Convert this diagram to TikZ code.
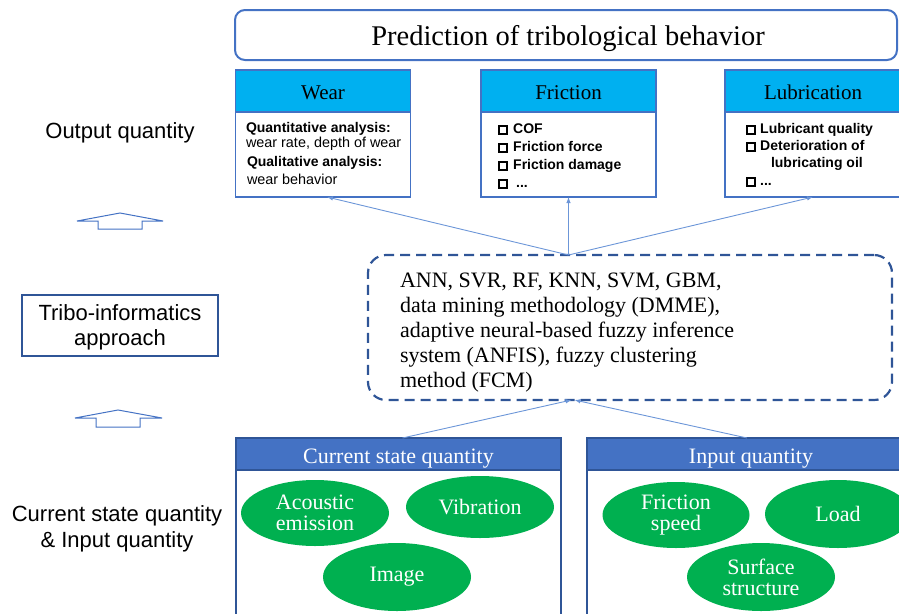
\documentclass[tikz,border=0pt]{standalone}
\usepackage{fontspec}
\setmainfont{Liberation Serif}
\setsansfont{Liberation Sans}
\usetikzlibrary{shapes.geometric,arrows.meta}

\definecolor{frameblue}{HTML}{4472C4}
\definecolor{deepblue}{HTML}{2F5597}
\definecolor{headcyan}{HTML}{00B0F0}
\definecolor{leafgreen}{HTML}{00B050}
\definecolor{linkblue}{HTML}{6C96D8}

% hollow square bullet used in the lists
\newcommand\chk{{\setlength{\fboxrule}{1.9pt}\setlength{\fboxsep}{0pt}\fbox{\rule{0pt}{6.4pt}\rule{6.4pt}{0pt}}}}
\newcommand\fs[1]{\fontsize{#1}{#1}\selectfont}

\tikzset{
  every node/.style={inner sep=0pt, outer sep=0pt},
  titlebox/.style={draw=frameblue, line width=2pt, rounded corners=10pt, fill=white,
                   font=\fs{28.5}},
  catbox/.style={draw=frameblue, line width=1.2pt, fill=white, anchor=north west},
  cathead/.style={draw=frameblue, line width=1.2pt, fill=headcyan, anchor=north west,
                  font=\fs{21}},
  bodybold/.style={anchor=base west, font=\sffamily\bfseries\fs{14}},
  bodyplain/.style={anchor=base west, font=\sffamily\fs{14.4}},
  sidelabel/.style={anchor=base, font=\sffamily\fs{22}},
  sidebox/.style={draw=deepblue, line width=1.2pt, anchor=north west},
  algobox/.style={draw=deepblue, line width=2.2pt, dash pattern=on 10pt off 6pt,
                  rounded corners=18pt, anchor=north west},
  algotext/.style={anchor=base west, font=\fs{22}},
  groupbox/.style={draw=deepblue, line width=1.2pt, fill=white, anchor=north west},
  grouphead/.style={draw=deepblue, line width=1.2pt, fill=frameblue, anchor=north west,
                    text=white, font=\fs{22}},
  leaf/.style={ellipse, fill=leafgreen, text=white, align=center,
               font=\fontsize{22}{21}\selectfont},
  link/.style={draw=linkblue, line width=0.9pt, -{Latex[length=6pt,width=4.5pt]}},
  hollow/.style={draw=frameblue, line width=1pt, fill=white, line join=miter},
}

\begin{document}
\begin{tikzpicture}[x=1pt, y=-1pt]
\useasboundingbox (0,0) rectangle (899,613);
\clip (0,0) rectangle (899,613);

% ---------- result level ----------
\node[titlebox, anchor=north west, minimum width=662pt, minimum height=50pt]
  (pred) at (235,10) {};
\node[font=\fs{28.5}, anchor=base] (predtext) at (568,45) {Prediction of tribological behavior};

\node[catbox, minimum width=175pt, minimum height=127pt] (wear) at (235.5,70) {};
\node[cathead, minimum width=175pt, minimum height=42pt] (wearhd) at (235.5,70) {};
\node[font=\fs{21}, anchor=base] (weart) at (wearhd.center |- 0,99) {Wear};

\node[catbox, minimum width=175pt, minimum height=127pt] (friction) at (481,70) {};
\node[cathead, minimum width=175pt, minimum height=42pt] (frictionhd) at (481,70) {};
\node[font=\fs{21}, anchor=base] (frictiont) at (frictionhd.center |- 0,99) {Friction};

\node[catbox, minimum width=176pt, minimum height=127pt] (lub) at (725,70) {};
\node[cathead, minimum width=176pt, minimum height=42pt] (lubhd) at (725,70) {};
\node[font=\fs{21}, anchor=base] (lubt) at (lubhd.center |- 0,99) {Lubrication};

% wear contents
\node[bodybold]  (w1) at (246,132) {Quantitative analysis:};
\node[bodyplain] (w2) at (246,147) {wear rate, depth of wear};
\node[bodybold]  (w3) at (247,166) {Qualitative analysis:};
\node[bodyplain] (w4) at (247,184) {wear behavior};

% friction contents
\node[bodybold] (f1) at (498,133) {\chk\hspace{5pt}COF};
\node[bodybold] (f2) at (498,151) {\chk\hspace{5pt}Friction force};
\node[bodybold] (f3) at (498,169) {\chk\hspace{5pt}Friction damage};
\node[bodybold] (f4) at (498,187) {\chk\hspace{8pt}...};

% lubrication contents
\node[bodybold] (l1) at (746,133) {\chk\hspace{4pt}Lubricant quality};
\node[bodybold] (l2) at (746,150) {\chk\hspace{4pt}Deterioration of};
\node[bodybold] (l3) at (771,167) {lubricating oil};
\node[bodybold] (l4) at (746,185) {\chk\hspace{4pt}...};

% ---------- method level ----------
\node[algobox, minimum width=524pt, minimum height=145pt] (algo) at (368,255) {};
\node[algotext] (a1) at (400,287) {ANN, SVR, RF, KNN, SVM, GBM,};
\node[algotext] (a2) at (400,312) {data mining methodology (DMME),};
\node[algotext] (a3) at (400,337) {adaptive neural-based fuzzy inference};
\node[algotext] (a4) at (400,362) {system (ANFIS), fuzzy clustering};
\node[algotext] (a5) at (400,387) {method (FCM)};

% ---------- input level ----------
\node[groupbox, minimum width=325pt, minimum height=190pt] (cs) at (236,438) {};
\node[grouphead, minimum width=325pt, minimum height=32pt] (cshd) at (236,438) {};
\node[anchor=base, text=white, font=\fs{22}] (cst) at (cshd.center |- 0,463) {Current state quantity};

\node[groupbox, minimum width=320pt, minimum height=190pt] (inp) at (587,438) {};
\node[grouphead, minimum width=320pt, minimum height=32pt] (inphd) at (587,438) {};
\node[anchor=base, text=white, font=\fs{22}] (inpt) at (751,463) {Input quantity};

\node[leaf, minimum width=148pt, minimum height=66pt] (acoustic) at (315,513) {Acoustic\\emission};
\node[leaf, minimum width=148pt, minimum height=62pt] (vibration) at (480,507) {Vibration};
\node[leaf, minimum width=148pt, minimum height=68pt] (image) at (397,577) {Image};
\node[leaf, minimum width=147pt, minimum height=66pt] (fspeed) at (676,515) {Friction\\speed};
\node[leaf, minimum width=146pt, minimum height=68pt] (load) at (838,514) {Load};
\node[leaf, minimum width=148pt, minimum height=68pt] (surface) at (761,577) {Surface\\structure};

% ---------- side labels ----------
\node[sidelabel] (outq) at (120,138) {Output quantity};
\node[sidebox, minimum width=196pt, minimum height=61pt] (tribo) at (22,295) {};
\node[sidelabel] (tribo1) at (120,320) {Tribo-informatics};
\node[sidelabel] (tribo2) at (120,345) {approach};
\node[sidelabel] (inq1) at (117,521) {Current state quantity};
\node[sidelabel] (inq2) at (117,547) {\& Input quantity};

% hollow upward block arrows
\coordinate (upper) at (120,213);
\draw[hollow] (upper) -- ++(43,8) -- ++(-21,0) -- ++(0,8) -- ++(-44,0)
  -- ++(0,-8) -- ++(-21,0) -- cycle;
\coordinate (lower) at (118,410);
\draw[hollow] (lower) -- ++(44,8) -- ++(-22,0) -- ++(0,9) -- ++(-44,0)
  -- ++(0,-9) -- ++(-21,0) -- cycle;

% ---------- connectors ----------
\path (friction.south |- algo.north) coordinate (algotop);
\path (friction.south |- algo.south) coordinate (algobot);
\draw[link] (algotop) -- ([xshift=4pt]wear.south);
\draw[link] (algotop) -- (friction.south);
\draw[link] (algotop) -- (lub.south);
\draw[link] ([xshift=4pt]cs.north) -- ([xshift=3pt]algobot);
\draw[link] (inp.north) -- ([xshift=6pt]algobot);
\end{tikzpicture}
\end{document}
